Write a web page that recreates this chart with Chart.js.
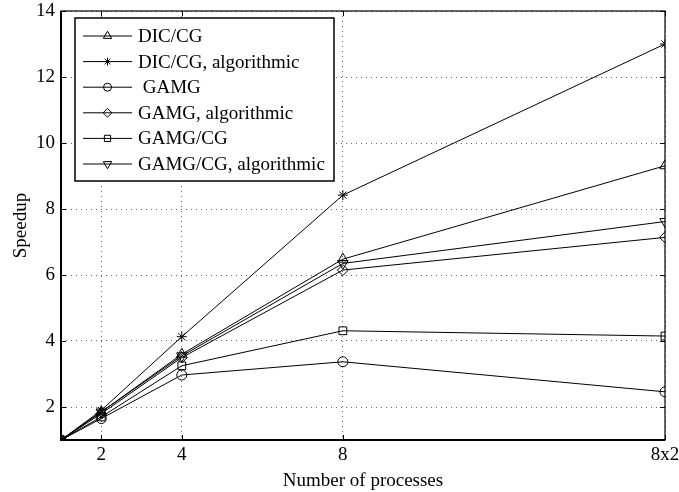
<!DOCTYPE html>
<html>
<head>
<meta charset="utf-8">
<script src="https://cdn.jsdelivr.net/npm/chart.js@4/dist/chart.umd.min.js"></script>
<style>
  html, body { margin: 0; padding: 0; background: #fff; }
</style>
</head>
<body>
<canvas id="speedupChart" width="679" height="492"></canvas>
<script>
// Datos del grafico
const procs = [1, 2, 4, 8, 16];
const xTicks = [2, 4, 8, 16];
const xTickLabels = ['2', '4', '8', '8x2'];
const yTicks = [2, 4, 6, 8, 10, 12, 14];

const seriesNames = ['DIC/CG', 'DIC/CG, algorithmic', ' GAMG', 'GAMG, algorithmic', 'GAMG/CG', 'GAMG/CG, algorithmic'];
const dicCg = [1, 1.85, 3.6, 6.48, 9.31];
const dicCgAlg = [1, 1.9, 4.13, 8.42, 13.0];
const gamg = [1, 1.65, 2.97, 3.37, 2.46];
const gamgAlg = [1, 1.8, 3.5, 6.15, 7.14];
const gamgCg = [1, 1.7, 3.25, 4.31, 4.15];
const gamgCgAlg = [1, 1.85, 3.55, 6.35, 7.62];

const seriesValues = [dicCg, dicCgAlg, gamg, gamgAlg, gamgCg, gamgCgAlg];
const markers = ['triangle', 'star', 'circle', 'rectRot', 'rect', 'triangle'];
const markerRot = [0, 0, 0, 0, 0, 180];
const markerSize = [6, 5, 5, 5.5, 5.5, 6];

const FONT = 'Liberation Serif, Times New Roman, serif';
const FSIZE = 19;

const datasets = seriesValues.map((vals, i) => ({
    label: seriesNames[i],
    data: procs.map((p, j) => ({ x: p, y: vals[j] })),
    borderColor: '#000',
    borderWidth: 1,
    backgroundColor: 'rgba(0,0,0,0)',
    pointStyle: markers[i],
    rotation: markerRot[i],
    pointRadius: markerSize[i],
    pointBorderColor: '#000',
    pointBorderWidth: 1,
    pointBackgroundColor: 'rgba(0,0,0,0)',
    tension: 0
}));

// Marco estilo MATLAB con ticks hacia dentro + leyenda dentro del area
const matlabFrame = {
    id: 'matlabFrame',
    afterDatasetsDraw(chart) {
        const ctx = chart.ctx;
        const a = chart.chartArea;
        const xs = chart.scales.x, ys = chart.scales.y;
        ctx.save();
        ctx.strokeStyle = '#000';
        // ticks hacia dentro
        ctx.lineWidth = 1;
        ctx.beginPath();
        xTicks.forEach(v => {
            const px = Math.round(xs.getPixelForValue(v)) + 0.5;
            ctx.moveTo(px, a.bottom); ctx.lineTo(px, a.bottom - 5);
            ctx.moveTo(px, a.top); ctx.lineTo(px, a.top + 5);
        });
        yTicks.forEach(v => {
            const py = Math.round(ys.getPixelForValue(v)) + 0.5;
            ctx.moveTo(a.left, py); ctx.lineTo(a.left + 5, py);
            ctx.moveTo(a.right, py); ctx.lineTo(a.right - 5, py);
        });
        ctx.stroke();
        // marco
        ctx.lineWidth = 1.2;
        ctx.strokeRect(a.left, a.top, a.right - a.left, a.bottom - a.top);
        ctx.lineWidth = 2;
        ctx.beginPath();
        ctx.moveTo(a.left, a.top); ctx.lineTo(a.left, a.bottom); ctx.lineTo(a.right, a.bottom);
        ctx.stroke();

        // leyenda
        const bx = 75, by = 18, bw = 259, bh = 163;
        ctx.fillStyle = '#fff';
        ctx.fillRect(bx, by, bw, bh);
        ctx.lineWidth = 1.5;
        ctx.strokeRect(bx, by, bw, bh);
        ctx.font = FSIZE + 'px ' + FONT;
        ctx.textBaseline = 'middle';
        ctx.textAlign = 'left';
        seriesNames.forEach((name, i) => {
            const y = by + 18 + i * 25.6;
            ctx.strokeStyle = '#000';
            ctx.lineWidth = 1;
            ctx.beginPath();
            ctx.moveTo(83, y); ctx.lineTo(132, y);
            ctx.stroke();
            ctx.fillStyle = 'rgba(0,0,0,0)';
            Chart.helpers.drawPoint(ctx, {
                pointStyle: markers[i],
                rotation: markerRot[i],
                radius: markerSize[i] * 0.8,
                borderWidth: 1
            }, 107.5, y);
            ctx.fillStyle = '#000';
            ctx.fillText(name, 138, y + 1);
        });
        ctx.restore();
    }
};

const ctx = document.getElementById('speedupChart').getContext('2d');
new Chart(ctx, {
    type: 'line',
    data: { datasets: datasets },
    options: {
        responsive: false,
        animation: false,
        devicePixelRatio: 1,
        layout: { padding: { top: 11, right: 14, left: 0, bottom: 0 } },
        plugins: {
            legend: { display: false },
            tooltip: { enabled: false }
        },
        scales: {
            x: {
                type: 'linear',
                min: 1,
                max: 16,
                afterBuildTicks: scale => { scale.ticks = xTicks.map(v => ({ value: v })); },
                afterFit: scale => {
                    scale.height = 52;
                    scale.paddingLeft = 0;
                    scale.paddingRight = 0;
                },
                ticks: {
                    autoSkip: false,
                    maxRotation: 0,
                    padding: 4,
                    color: '#000',
                    font: { family: FONT, size: FSIZE },
                    callback: (v) => xTickLabels[xTicks.indexOf(v)]
                },
                grid: { color: 'rgba(0,0,0,0.6)', lineWidth: 1, drawTicks: false },
                border: { display: false, dash: [1, 4] },
                title: {
                    display: true,
                    text: 'Number of processes',
                    color: '#000',
                    font: { family: FONT, size: FSIZE },
                    padding: { top: 4, bottom: 0 }
                }
            },
            y: {
                type: 'linear',
                min: 1,
                max: 14,
                afterBuildTicks: scale => { scale.ticks = yTicks.map(v => ({ value: v })); },
                afterFit: scale => {
                    scale.width = 61;
                    scale.paddingTop = 0;
                    scale.paddingBottom = 0;
                },
                ticks: {
                    padding: 6,
                    color: '#000',
                    font: { family: FONT, size: FSIZE }
                },
                grid: { color: 'rgba(0,0,0,0.6)', lineWidth: 1, drawTicks: false },
                border: { display: false, dash: [1, 4] },
                title: {
                    display: true,
                    text: 'Speedup',
                    color: '#000',
                    font: { family: FONT, size: FSIZE },
                    padding: { top: 10, bottom: 0 }
                }
            }
        }
    },
    plugins: [matlabFrame]
});
</script>
</body>
</html>
